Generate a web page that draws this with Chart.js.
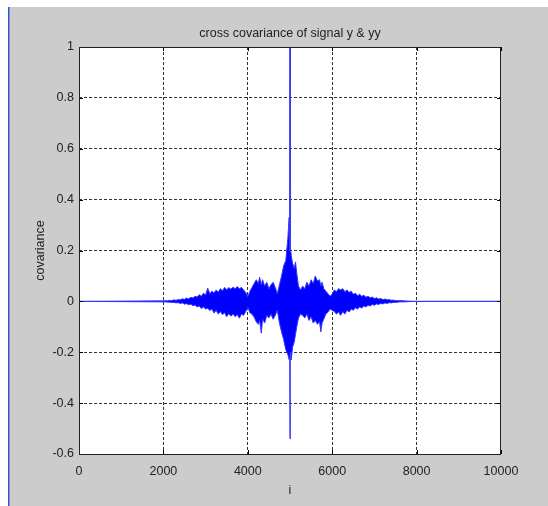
<!DOCTYPE html>
<html>
<head>
<meta charset="utf-8">
<script src="https://cdn.jsdelivr.net/npm/chart.js@4"></script>
<style>
  html, body { margin: 0; padding: 0; background: #fff; }
  canvas { display: block; }
</style>
</head>
<body>
<canvas id="covChart" width="548" height="506"></canvas>
<script>
// lag axis and envelope of the cross covariance
const xTicks = [0, 2000, 4000, 6000, 8000, 10000];
const yTicks = [-0.6, -0.4, -0.2, 0, 0.2, 0.4, 0.6, 0.8, 1];

const lagX = [
  0, 2000, 2050, 2100, 2150, 2200, 2250, 2300, 2350, 2400, 2450,
  2500, 2550, 2600, 2650, 2700, 2750, 2800, 2850, 2900, 2950,
  3000, 3050, 3100, 3150, 3200, 3250, 3300, 3350, 3400, 3450,
  3500, 3550, 3600, 3650, 3700, 3750, 3800, 3850, 3900, 3950,
  4000, 4050, 4100, 4150, 4200, 4250, 4280, 4320, 4350, 4400,
  4450, 4500, 4550, 4600, 4650, 4700, 4750, 4800, 4850, 4900,
  4950, 4980, 4995, 5000, 5005, 5030, 5060, 5100, 5130, 5160,
  5200, 5250, 5300, 5350, 5400, 5450, 5500, 5550, 5600, 5650,
  5700, 5730, 5760, 5800, 5850, 5900, 5950, 6000, 6050, 6100,
  6150, 6200, 6250, 6300, 6350, 6400, 6450, 6500, 6550, 6600,
  6650, 6700, 6750, 6800, 6850, 6900, 6950, 7000, 7050, 7100,
  7150, 7200, 7250, 7300, 7350, 7400, 7450, 7500, 7600, 7700, 7800, 8000, 10000];

const upperEnv = [
  0, 0.002, 0.003, 0.002, 0.004, 0.003, 0.006, 0.004, 0.007, 0.006, 0.01,
  0.008, 0.013, 0.01, 0.016, 0.013, 0.02, 0.017, 0.026, 0.02, 0.032,
  0.025, 0.052, 0.03, 0.04, 0.033, 0.045, 0.036, 0.05, 0.042, 0.055,
  0.046, 0.054, 0.048, 0.056, 0.05, 0.058, 0.05, 0.055, 0.045, 0.035,
  0.018, 0.04, 0.055, 0.07, 0.085, 0.07, 0.095, 0.065, 0.085, 0.06,
  0.075, 0.05, 0.065, 0.075, 0.055, 0.03, 0.065, 0.1, 0.14, 0.16,
  0.25, 0.33, 0.2, 1.0, 0.22, 0.18, 0.15, 0.13, 0.155, 0.11,
  0.06, 0.045, 0.06, 0.05, 0.075, 0.06, 0.085, 0.07, 0.1, 0.08,
  0.085, 0.06, 0.075, 0.05, 0.04, 0.03, 0.02, 0.028, 0.045, 0.038,
  0.05, 0.045, 0.05, 0.038, 0.045, 0.035, 0.04, 0.028, 0.032, 0.022,
  0.028, 0.02, 0.024, 0.016, 0.02, 0.014, 0.017, 0.011, 0.014, 0.009,
  0.011, 0.007, 0.009, 0.006, 0.007, 0.004, 0.005, 0.003, 0.003, 0.002, 0.001, 0, 0];

const lowerEnv = [
  0, -0.002, -0.002, -0.003, -0.003, -0.004, -0.004, -0.006, -0.005, -0.008, -0.006,
  -0.011, -0.009, -0.013, -0.011, -0.017, -0.014, -0.022, -0.018, -0.028, -0.022,
  -0.03, -0.027, -0.036, -0.03, -0.046, -0.035, -0.05, -0.04, -0.052, -0.045,
  -0.06, -0.048, -0.058, -0.05, -0.06, -0.052, -0.066, -0.05, -0.055, -0.04,
  -0.022, -0.045, -0.05, -0.062, -0.08, -0.09, -0.075, -0.125, -0.07, -0.085,
  -0.055, -0.065, -0.05, -0.07, -0.055, -0.035, -0.085, -0.12, -0.15, -0.19,
  -0.21, -0.23, -0.22, -0.54, -0.2, -0.23, -0.18, -0.16, -0.13, -0.1,
  -0.065, -0.05, -0.055, -0.065, -0.05, -0.075, -0.06, -0.085, -0.075, -0.09,
  -0.08, -0.12, -0.085, -0.07, -0.05, -0.042, -0.03, -0.035, -0.04, -0.05,
  -0.042, -0.055, -0.04, -0.05, -0.035, -0.042, -0.03, -0.035, -0.025, -0.03,
  -0.022, -0.026, -0.018, -0.022, -0.015, -0.018, -0.012, -0.015, -0.01, -0.012,
  -0.008, -0.01, -0.006, -0.008, -0.005, -0.006, -0.004, -0.004, -0.002, -0.002, -0.001, 0, 0];

const toPoints = (xs, ys) => xs.map((x, i) => ({ x: x, y: ys[i] }));

const FONT = "'Liberation Sans', Arial, sans-serif";
const TXT = '#222';

// matlab-ish figure: grey frame, white axes box, inward tick marks
const figurePlugin = {
  id: 'figure',
  beforeDraw(chart) {
    const c = chart.ctx, a = chart.chartArea;
    c.save();
    c.fillStyle = '#ffffff';
    c.fillRect(0, 0, chart.width, chart.height);
    c.fillStyle = '#cccccc';
    c.fillRect(9, 7, chart.width - 9, chart.height - 7);
    c.fillStyle = '#2f55d4';
    c.fillRect(8, 7, 1.5, chart.height - 7);
    c.fillStyle = '#ffffff';
    c.fillRect(a.left, a.top, a.right - a.left, a.bottom - a.top);
    c.restore();
  },
  afterDatasetsDraw(chart) {
    const c = chart.ctx, a = chart.chartArea;
    const xs = chart.scales.x, ys = chart.scales.y;
    c.save();
    c.strokeStyle = '#000';
    c.lineWidth = 1;
    c.beginPath();
    xTicks.forEach(v => {
      const px = Math.round(xs.getPixelForValue(v)) + 0.5;
      c.moveTo(px, a.bottom); c.lineTo(px, a.bottom - 4);
      c.moveTo(px, a.top); c.lineTo(px, a.top + 4);
    });
    yTicks.forEach(v => {
      const py = Math.round(ys.getPixelForValue(v)) + 0.5;
      c.moveTo(a.left, py); c.lineTo(a.left + 4, py);
      c.moveTo(a.right, py); c.lineTo(a.right - 4, py);
    });
    c.stroke();
    c.strokeStyle = '#222';
    c.strokeRect(Math.round(a.left) + 0.5, Math.round(a.top) + 0.5,
      Math.round(a.right - a.left) - 1, Math.round(a.bottom - a.top));
    c.restore();
  }
};

const edgeHidden = (lo, hi) => ctx =>
  (ctx.tick && (ctx.tick.value === lo || ctx.tick.value === hi)) ? 'rgba(0,0,0,0)' : '#333';

const ctx = document.getElementById('covChart').getContext('2d');

const covChart = new Chart(ctx, {
  type: 'line',
  data: {
    datasets: [{
      label: 'upper',
      data: toPoints(lagX, upperEnv),
      borderColor: '#3535ff',
      borderWidth: 1,
      pointRadius: 0,
      tension: 0,
      fill: false
    }, {
      label: 'lower',
      data: toPoints(lagX, lowerEnv),
      borderColor: '#3535ff',
      backgroundColor: '#0000ff',
      borderWidth: 1,
      pointRadius: 0,
      tension: 0,
      fill: '-1'
    }]
  },
  options: {
    responsive: false,
    animation: false,
    devicePixelRatio: 1,
    layout: { padding: { left: 0, right: 47, top: 0, bottom: 0 } },
    plugins: {
      legend: { display: false },
      tooltip: { enabled: false },
      title: {
        display: true,
        fullSize: false,
        text: 'cross covariance of signal y & yy',
        color: TXT,
        font: { family: FONT, size: 12.5, weight: 'normal' },
        padding: { top: 26, bottom: 6 }
      }
    },
    scales: {
      x: {
        type: 'linear',
        min: 0,
        max: 10000,
        afterBuildTicks: s => { s.ticks = xTicks.map(v => ({ value: v })); },
        afterFit: s => { s.height = 52; },
        border: { display: false, dash: [3, 2] },
        grid: { color: edgeHidden(0, 10000), drawTicks: false },
        ticks: {
          color: TXT,
          padding: 10,
          maxRotation: 0,
          font: { family: FONT, size: 12.5 },
          callback: v => String(v)
        },
        title: {
          display: true,
          text: 'i',
          color: TXT,
          font: { family: FONT, size: 12.5 },
          padding: { top: 0, bottom: 8 }
        }
      },
      y: {
        min: -0.6,
        max: 1,
        afterBuildTicks: s => { s.ticks = yTicks.map(v => ({ value: v })); },
        afterFit: s => { s.width = 79; },
        border: { display: false, dash: [3, 2] },
        grid: { color: edgeHidden(-0.6, 1), drawTicks: false },
        ticks: {
          color: TXT,
          padding: 5,
          font: { family: FONT, size: 12.5 },
          callback: v => String(Math.round(v * 10) / 10)
        },
        title: {
          display: true,
          text: 'covariance',
          color: TXT,
          font: { family: FONT, size: 12.5 },
          padding: { top: 33, bottom: 0 }
        }
      }
    }
  },
  plugins: [figurePlugin]
});
</script>
</body>
</html>
